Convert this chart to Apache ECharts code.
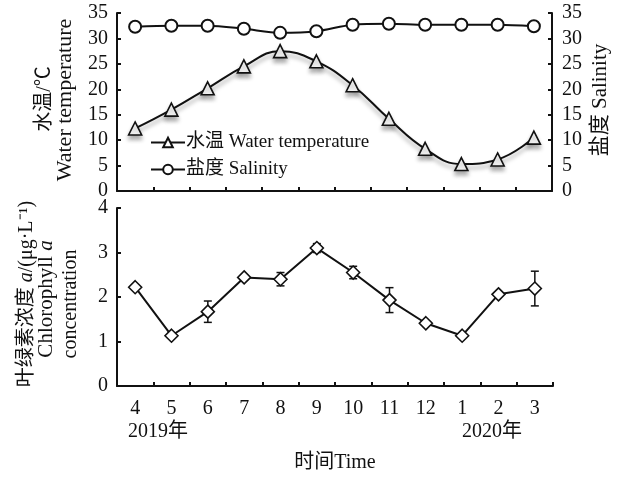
<!DOCTYPE html>
<html>
<head>
<meta charset="utf-8">
<script src="https://cdn.jsdelivr.net/npm/echarts@6/dist/echarts.min.js"></script>
<style>
  html, body { margin: 0; background: #fff; }
  #main { width: 619px; height: 477px; }
</style>
</head>
<body>
<div id="main"></div>
<script>
// months Apr 2019 .. Mar 2020
const months = ['4', '5', '6', '7', '8', '9', '10', '11', '12', '1', '2', '3']
const waterTemp = [12.3, 16.0, 20.2, 24.5, 27.5, 25.5, 20.8, 14.2, 8.3, 5.3, 6.2, 10.5]
const salinity = [32.3, 32.5, 32.5, 31.9, 31.1, 31.4, 32.7, 32.9, 32.7, 32.7, 32.7, 32.4]
const chla = [2.22, 1.13, 1.67, 2.44, 2.40, 3.10, 2.55, 1.93, 1.41, 1.13, 2.06, 2.19]
const chlaErr = [0, 0.03, 0.24, 0.05, 0.15, 0.1, 0.14, 0.28, 0, 0, 0, 0.39]

const FONT = '"Liberation Serif", "Times New Roman", "Noto Sans CJK SC", serif'
const INK = '#111'

const chart = echarts.init(document.getElementById('main'), null, { renderer: 'canvas' })

const axisCommon = {
  axisLine: { show: true, lineStyle: { color: INK, width: 2 } },
  axisTick: { show: true, inside: true, length: 4, lineStyle: { color: INK, width: 2 } },
  splitLine: { show: false },
  axisLabel: { color: INK, fontFamily: FONT, fontSize: 20 }
}

// error bars
function renderErr(params, api) {
  const x = api.value(0), y = api.value(1), e = api.value(2)
  if (!e) return
  const hi = api.coord([x, y + e]), lo = api.coord([x, y - e])
  const w = 4, st = { stroke: INK, lineWidth: 1.5 }
  return {
    type: 'group',
    children: [
      { type: 'line', shape: { x1: hi[0], y1: hi[1], x2: lo[0], y2: lo[1] }, style: st },
      { type: 'line', shape: { x1: hi[0] - w, y1: hi[1], x2: hi[0] + w, y2: hi[1] }, style: st },
      { type: 'line', shape: { x1: lo[0] - w, y1: lo[1], x2: lo[0] + w, y2: lo[1] }, style: st }
    ]
  }
}

// vertical (rotated) text helper
function vtext(x, y, text, size) {
  return {
    type: 'text', x: x, y: y, rotation: Math.PI / 2,
    style: {
      text: text, font: size + 'px ' + FONT, fill: INK, align: 'center', verticalAlign: 'middle',
      rich: { i: { fontStyle: 'italic', fontFamily: FONT, fontSize: size, fill: INK } }
    }
  }
}
function htext(x, y, text, size) {
  return {
    type: 'text', x: x, y: y,
    style: { text: text, font: size + 'px ' + FONT, fill: INK, align: 'center', verticalAlign: 'middle' }
  }
}

chart.setOption({
  backgroundColor: '#fff',
  animation: false,
  grid: [
    { left: 117, right: 67, top: 13, height: 178 },
    { left: 117, right: 66, top: 208, height: 178 }
  ],
  legend: {
    orient: 'vertical',
    left: 145,
    top: 128,
    itemGap: 8,
    itemWidth: 34,
    itemHeight: 12,
    textStyle: { color: INK, fontFamily: FONT, fontSize: 19, padding: [0, 0, 0, -4] },
    data: ['水温 Water temperature', '盐度 Salinity']
  },
  xAxis: [
    Object.assign({}, axisCommon, {
      type: 'category', gridIndex: 0, data: months, boundaryGap: true,
      axisLabel: { show: false }
    }),
    Object.assign({}, axisCommon, {
      type: 'category', gridIndex: 1, data: months, boundaryGap: true,
      axisLabel: { color: INK, fontFamily: FONT, fontSize: 20, margin: 13 }
    })
  ],
  yAxis: [
    Object.assign({}, axisCommon, {
      type: 'value', gridIndex: 0, min: 0, max: 35, interval: 5,
      axisLabel: { color: INK, fontFamily: FONT, fontSize: 20, margin: 9 }
    }),
    Object.assign({}, axisCommon, {
      type: 'value', gridIndex: 0, position: 'right', min: 0, max: 35, interval: 5,
      axisLabel: { color: INK, fontFamily: FONT, fontSize: 20, margin: 10 }
    }),
    Object.assign({}, axisCommon, {
      type: 'value', gridIndex: 1, min: 0, max: 4, interval: 1,
      axisLabel: { color: INK, fontFamily: FONT, fontSize: 20, margin: 9 }
    })
  ],
  series: [
    {
      name: '水温 Water temperature',
      type: 'line',
      xAxisIndex: 0, yAxisIndex: 0,
      data: waterTemp,
      smooth: 0.45,
      symbol: 'triangle',
      symbolSize: 13,
      z: 3,
      lineStyle: {
        color: INK, width: 2,
        shadowColor: 'rgba(0,0,0,0.35)', shadowBlur: 4, shadowOffsetY: 4
      },
      itemStyle: {
        color: '#fff', borderColor: INK, borderWidth: 1.6,
        shadowColor: 'rgba(0,0,0,0.3)', shadowBlur: 4, shadowOffsetY: 4
      }
    },
    {
      name: '盐度 Salinity',
      type: 'line',
      xAxisIndex: 0, yAxisIndex: 1,
      data: salinity,
      smooth: 0.3,
      symbol: 'circle',
      symbolSize: 12,
      z: 3,
      lineStyle: { color: INK, width: 2 },
      itemStyle: { color: '#fff', borderColor: INK, borderWidth: 2 }
    },
    {
      name: 'errbar',
      type: 'custom',
      xAxisIndex: 1, yAxisIndex: 2,
      renderItem: renderErr,
      data: months.map((m, i) => [i, chla[i], chlaErr[i]]),
      z: 2,
      silent: true
    },
    {
      name: '叶绿素',
      type: 'line',
      xAxisIndex: 1, yAxisIndex: 2,
      data: chla,
      symbol: 'diamond',
      symbolSize: 13,
      z: 3,
      lineStyle: { color: INK, width: 2 },
      itemStyle: { color: '#fff', borderColor: INK, borderWidth: 1.6 }
    }
  ],
  graphic: [
    vtext(45, 99, '水温/℃', 20),
    vtext(65, 100, 'Water temperature', 22),
    vtext(600, 100, '盐度 Salinity', 21),
    vtext(27, 294, '叶绿素浓度 {i|a}/(μg·L⁻¹)', 20),
    vtext(46, 299, 'Chlorophyll {i|a}', 21),
    vtext(71, 304, 'concentration', 20),
    htext(158, 432, '2019年', 20),
    htext(492, 432, '2020年', 20),
    htext(335, 463, '时间Time', 20)
  ]
})
</script>
</body>
</html>
